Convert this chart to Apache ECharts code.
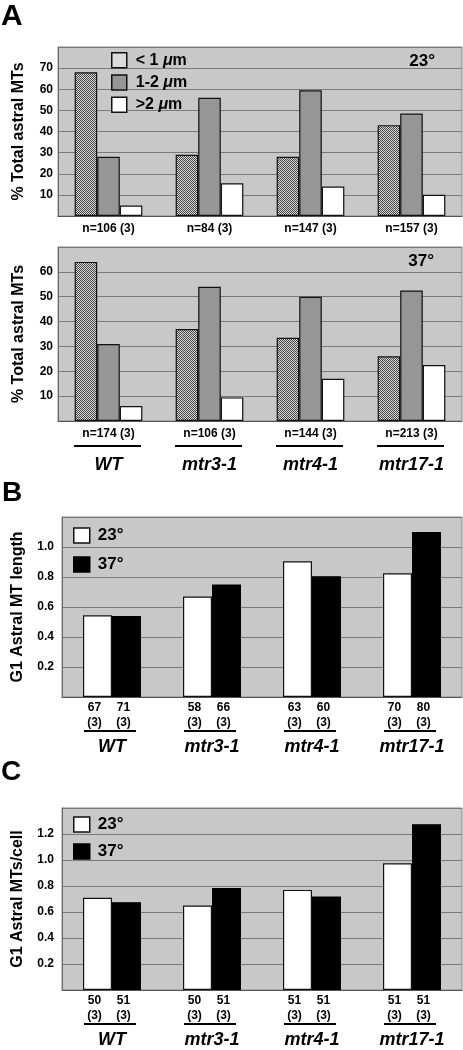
<!DOCTYPE html>
<html><head><meta charset="utf-8">
<script src="https://cdn.jsdelivr.net/npm/echarts@6/dist/echarts.min.js"></script>
<style>html,body{margin:0;padding:0;background:#fff}#c{width:463px;height:1050px}</style>
</head><body><div id="c"></div>
<script>
// ---- data ----
const categories = ['WT', 'mtr3-1', 'mtr4-1', 'mtr17-1'];
const lengthClasses = ['< 1 μm', '1-2 μm', '>2 μm'];
const temps = ['23°', '37°'];
// Panel A: % total astral MTs per length class
const a23Short = [68, 29, 28, 43];
const a23Mid = [28, 56, 59.5, 48.5];
const a23Long = [5, 15.5, 14, 10];
const a37Short = [64, 37, 33.5, 26];
const a37Mid = [31, 54, 50, 52.5];
const a37Long = [6, 9.5, 17, 22.5];
const nA23 = [106, 84, 147, 157];
const nA37 = [174, 106, 144, 213];
// Panel B: G1 astral MT length
const lenAt23 = [0.545, 0.67, 0.905, 0.825];
const lenAt37 = [0.54, 0.75, 0.805, 1.10];
const nB23 = [67, 58, 63, 70];
const nB37 = [71, 66, 60, 80];
// Panel C: G1 astral MTs per cell
const numAt23 = [0.71, 0.65, 0.77, 0.975];
const numAt37 = [0.675, 0.785, 0.72, 1.275];
const nC23 = [50, 50, 51, 51];
const nC37 = [51, 51, 51, 51];
const experiments = 3;

// ---- styling ----
const FONT = '"Liberation Sans", Arial, Helvetica, sans-serif';
const cv = document.createElement('canvas');
cv.width = 2; cv.height = 2;
const cx = cv.getContext('2d');
cx.fillStyle = '#dadada'; cx.fillRect(0, 0, 2, 2);
cx.fillStyle = '#444444'; cx.fillRect(0, 0, 1, 1); cx.fillRect(1, 1, 1, 1);
const hatch = { image: cv, repeat: 'repeat' };

const gridBase = { show: true, backgroundColor: '#c8c8c8', borderColor: '#8a8a8a', borderWidth: 1 };
function yAxis(gi, max, interval, name, gap, margin, dec) {
  return {
    type: 'value', gridIndex: gi, min: 0, max: max, interval: interval,
    name: name, nameLocation: 'middle', nameGap: gap,
    nameTextStyle: { fontFamily: FONT, fontWeight: 'bold', fontSize: 16, color: '#000' },
    axisLine: { show: true, lineStyle: { color: '#6a6a6a' } },
    axisTick: { show: false },
    splitLine: { lineStyle: { color: '#7a7a7a', width: 1 } },
    axisLabel: {
      margin: margin, fontFamily: FONT, fontWeight: 'bold', fontSize: 12, color: '#000',
      formatter: v => (v <= 1e-9 || v >= max - 1e-9) ? '' : (dec ? v.toFixed(dec) : String(v))
    }
  };
}
function xAxis(gi, label) {
  return {
    type: 'category', gridIndex: gi, data: categories,
    axisTick: { show: false },
    axisLine: { lineStyle: { color: '#555' } },
    axisLabel: label
  };
}
const nameStyle = { fontFamily: FONT, fontWeight: 'bold', fontStyle: 'italic', fontSize: 18, color: '#000' };
const bold12 = { fontFamily: FONT, fontWeight: 'bold', fontSize: 12, color: '#000' };

const styleShort = { color: hatch, borderColor: '#111', borderWidth: 1.2 };
const styleMid = { color: '#969696', borderColor: '#111', borderWidth: 1.2 };
const styleLong = { color: '#ffffff', borderColor: '#111', borderWidth: 1.2 };
const styleW = { color: '#ffffff', borderColor: '#111', borderWidth: 1.2 };
const styleB = { color: '#000000', borderColor: '#000', borderWidth: 1.2 };

function barA(gi, name, data, style) {
  return { type: 'bar', name: name, xAxisIndex: gi, yAxisIndex: gi, data: data,
    barGap: '0%', barCategoryGap: '33%', itemStyle: style, silent: true };
}
function barT(gi, name, data, style, ns) {
  return { type: 'bar', name: name, xAxisIndex: gi, yAxisIndex: gi, data: data,
    barGap: '0%', barCategoryGap: '42%', itemStyle: style, silent: true,
    label: Object.assign({ show: true, position: 'bottom', distance: 3, offset: [-3, 0], lineHeight: 15,
      formatter: p => ns[p.dataIndex] + '\n(' + experiments + ')' }, bold12) };
}
const richA = {
  t: { fontFamily: FONT, fontWeight: 'bold', fontSize: 16, color: '#000', padding: [0, 0, 0, 0] },
  i: { fontFamily: FONT, fontWeight: 'bold', fontStyle: 'italic', fontSize: 16, color: '#000' }
};

const chart = echarts.init(document.getElementById('c'), null, { renderer: 'canvas' });
const option = {
  animation: false,
  backgroundColor: '#fff',
  grid: [
    Object.assign({ left: 58, top: 47, width: 404, height: 169 }, gridBase),
    Object.assign({ left: 58, top: 247, width: 404, height: 174 }, gridBase),
    Object.assign({ left: 62, top: 517, width: 400, height: 180 }, gridBase),
    Object.assign({ left: 62, top: 808, width: 400, height: 184 }, gridBase)
  ],
  xAxis: [
    xAxis(0, Object.assign({ margin: 7, formatter: (v, i) => 'n=' + nA23[i] + ' (' + experiments + ')' }, bold12)),
    xAxis(1, { margin: 6, formatter: (v, i) => '{n|n=' + nA37[i] + ' (' + experiments + ')}\n{c|' + v + '}',
      rich: { n: Object.assign({ lineHeight: 14 }, bold12), c: Object.assign({ lineHeight: 48 }, nameStyle) } }),
    xAxis(2, Object.assign({ margin: 40, lineHeight: 20 }, nameStyle)),
    xAxis(3, Object.assign({ margin: 40, lineHeight: 20 }, nameStyle))
  ],
  yAxis: [
    yAxis(0, 80, 10, '% Total astral MTs', 31, 5, 0),
    yAxis(1, 70, 10, '% Total astral MTs', 31, 5, 0),
    yAxis(2, 1.2, 0.2, 'G1 Astral MT length', 36, 8, 1),
    yAxis(3, 1.4, 0.2, 'G1 Astral MTs/cell', 36, 8, 1)
  ],
  legend: [
    { orient: 'vertical', left: 111, top: 52, padding: 0, itemWidth: 15, itemHeight: 15, itemGap: 5.7,
      selectedMode: false, icon: 'rect',
      data: [
        { name: lengthClasses[0], itemStyle: { color: '#dcdcdc', borderColor: '#111', borderWidth: 1.5 } },
        { name: lengthClasses[1], itemStyle: { color: '#969696', borderColor: '#111', borderWidth: 1.5 } },
        { name: lengthClasses[2], itemStyle: { color: '#ffffff', borderColor: '#111', borderWidth: 1.5 } }
      ],
      formatter: n => { const p = n.split('μ'); return '{t|' + p[0] + '}{i|μ}{t|' + p[1] + '}'; },
      textStyle: { fontFamily: FONT, fontWeight: 'bold', fontSize: 16, color: '#000', padding: [0, 0, 0, 4], rich: richA } },
    { orient: 'vertical', left: 73, top: 527, padding: 0, itemWidth: 16, itemHeight: 15, itemGap: 12,
      selectedMode: false, icon: 'rect',
      data: [
        { name: temps[0], itemStyle: { color: '#fff', borderColor: '#111', borderWidth: 1.5 } },
        { name: temps[1], itemStyle: { color: '#000', borderColor: '#000', borderWidth: 1.5 } }
      ],
      textStyle: { fontFamily: FONT, fontWeight: 'bold', fontSize: 17, color: '#000', padding: [0, 0, 0, 3] } },
    { orient: 'vertical', left: 73, top: 816, padding: 0, itemWidth: 16, itemHeight: 15, itemGap: 10,
      selectedMode: false, icon: 'rect',
      data: [
        { name: temps[0], itemStyle: { color: '#fff', borderColor: '#111', borderWidth: 1.5 } },
        { name: temps[1], itemStyle: { color: '#000', borderColor: '#000', borderWidth: 1.5 } }
      ],
      textStyle: { fontFamily: FONT, fontWeight: 'bold', fontSize: 17, color: '#000', padding: [0, 0, 0, 3] } }
  ],
  series: [
    barA(0, lengthClasses[0], a23Short, styleShort),
    barA(0, lengthClasses[1], a23Mid, styleMid),
    barA(0, lengthClasses[2], a23Long, styleLong),
    barA(1, lengthClasses[0], a37Short, styleShort),
    barA(1, lengthClasses[1], a37Mid, styleMid),
    barA(1, lengthClasses[2], a37Long, styleLong),
    barT(2, temps[0], lenAt23, styleW, nB23),
    barT(2, temps[1], lenAt37, styleB, nB37),
    barT(3, temps[0], numAt23, styleW, nC23),
    barT(3, temps[1], numAt37, styleB, nC37)
  ],
  graphic: [
    { type: 'text', id: 'lA', left: 1, top: 2, style: { text: 'A', fontFamily: FONT, fontWeight: 'bold', fontSize: 30, fill: '#000' } },
    { type: 'text', id: 'lB', left: 2, top: 479, style: { text: 'B', fontFamily: FONT, fontWeight: 'bold', fontSize: 28, fill: '#000' } },
    { type: 'text', id: 'lC', left: 1, top: 758, style: { text: 'C', fontFamily: FONT, fontWeight: 'bold', fontSize: 28, fill: '#000' } },
    { type: 'text', id: 't23', right: 28, top: 53, style: { text: temps[0], fontFamily: FONT, fontWeight: 'bold', fontSize: 17, fill: '#000' } },
    { type: 'text', id: 't37', right: 29, top: 253, style: { text: temps[1], fontFamily: FONT, fontWeight: 'bold', fontSize: 17, fill: '#000' } }
  ]
};
chart.setOption(option);

// underline bars beneath the n-labels, placed from the axes' own scales
const lines = [];
[[1, 25, 67, -1], [2, 34, 52, -2], [3, 34, 52, -2]].forEach(([gi, dy, w, dx]) => {
  const y0 = chart.convertToPixel({ yAxisIndex: gi }, 0) + dy;
  categories.forEach((c, k) => {
    const x = chart.convertToPixel({ xAxisIndex: gi }, c) + dx;
    lines.push({ type: 'line', id: 'u' + gi + '_' + k, silent: true,
      shape: { x1: x - w / 2, y1: y0, x2: x + w / 2, y2: y0 },
      style: { stroke: '#000', lineWidth: 2 } });
  });
});
chart.setOption({ graphic: lines });
</script></body></html>
